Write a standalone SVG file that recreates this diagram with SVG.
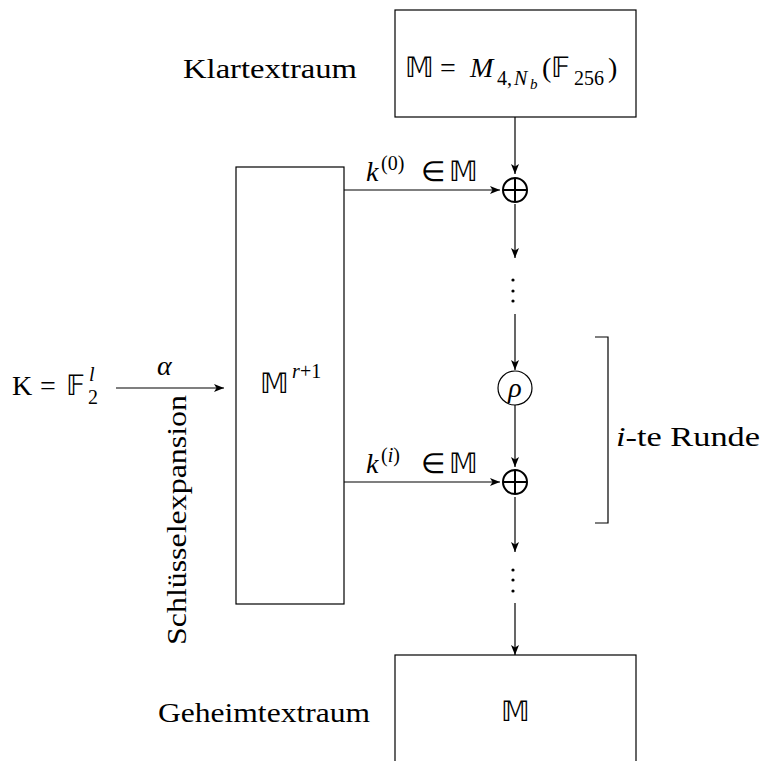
<svg xmlns="http://www.w3.org/2000/svg" width="761" height="761" viewBox="0 0 761 761">
<style>
text{font-family:"Liberation Serif","Times New Roman",serif;fill:#000}
.t{font-size:28px}
.s{font-size:20px}
.ss{font-size:15px}
.i{font-style:italic}
.box{fill:#fff;stroke:#000;stroke-width:1.2}
.ln{fill:none;stroke:#000;stroke-width:1.2}
.ox{fill:none;stroke:#000;stroke-width:2}
</style>
<defs>
<marker id="ah" viewBox="0 0 10 8" refX="10" refY="4" markerWidth="10" markerHeight="8" markerUnits="userSpaceOnUse" orient="auto">
<path d="M0,0 L10,4 L0,8 L2.5,4 Z" fill="#000"/>
</marker>
</defs>
<g id="connectors">
<line class="ln" x1="515" y1="117" x2="515" y2="174" marker-end="url(#ah)"/>
<line class="ln" x1="515" y1="204" x2="515" y2="258" marker-end="url(#ah)"/>
<line class="ln" x1="515" y1="314" x2="515" y2="370" marker-end="url(#ah)"/>
<line class="ln" x1="515" y1="405" x2="515" y2="467" marker-end="url(#ah)"/>
<line class="ln" x1="515" y1="497" x2="515" y2="552" marker-end="url(#ah)"/>
<line class="ln" x1="515" y1="603" x2="515" y2="655" marker-end="url(#ah)"/>
<line class="ln" x1="344" y1="190" x2="500" y2="190" marker-end="url(#ah)"/>
<line class="ln" x1="344" y1="482" x2="500" y2="482" marker-end="url(#ah)"/>
<line class="ln" x1="116" y1="388" x2="224" y2="388" marker-end="url(#ah)"/>
<polyline class="ln" points="595,337 608,337 608,523 595,523"/>
</g>
<g id="dots1" fill="#000">
<circle cx="513" cy="280" r="1.6"/><circle cx="513" cy="291" r="1.6"/><circle cx="513" cy="301" r="1.6"/>
</g>
<g id="dots2" fill="#000">
<circle cx="513" cy="570" r="1.6"/><circle cx="513" cy="580" r="1.6"/><circle cx="513" cy="591" r="1.6"/>
</g>
<g id="klartext">
<rect class="box" x="395" y="10" width="241" height="107"/>
<text class="t" x="405" y="77">𝕄</text>
<text class="t" x="440" y="77">=</text>
<text class="t i" x="470" y="77">M</text>
<text class="s" x="497" y="85">4,</text>
<text class="s i" x="514" y="85">N</text>
<text class="ss i" x="530" y="89">b</text>
<text class="t" x="542" y="77">(𝔽</text>
<text class="s" x="574" y="85">256</text>
<text class="t" x="608" y="77">)</text>
<text class="t" x="183" y="78" textLength="174" lengthAdjust="spacingAndGlyphs">Klartextraum</text>
</g>
<g id="xor0">
<circle class="ox" cx="515" cy="190" r="12"/>
<path class="ox" d="M503,190 H527 M515,178 V202"/>
</g>
<g id="rho">
<circle class="ln" cx="515" cy="388" r="17"/>
<text class="t i" x="515" y="397" text-anchor="middle">ρ</text>
</g>
<g id="xori">
<circle class="ox" cx="515" cy="482" r="12"/>
<path class="ox" d="M503,482 H527 M515,470 V494"/>
</g>
<g id="keyexp">
<rect class="box" x="236" y="167" width="108" height="437"/>
<text class="t" x="260" y="393">𝕄</text>
<text class="s i" x="292" y="378">r</text>
<text class="s" x="300" y="378">+1</text>
</g>
<g id="key">
<text class="t" x="12" y="395">K</text>
<text class="t" x="40" y="395">=</text>
<text class="t" x="66" y="395">𝔽</text>
<text class="s" x="88" y="404">2</text>
<text class="s i" x="89" y="381">l</text>
<text class="t i" x="157" y="375">α</text>
<text class="t" transform="translate(186,645) rotate(-90)" textLength="250" lengthAdjust="spacingAndGlyphs">Schlüsselexpansion</text>
</g>
<g id="k0label">
<text class="t i" x="366" y="181">k</text>
<text class="s" x="381" y="170">(0)</text>
<text class="t" x="421" y="181">∈</text>
<text class="t" x="449" y="181">𝕄</text>
</g>
<g id="kilabel">
<text class="t i" x="366" y="473">k</text>
<text class="s" x="381" y="462">(<tspan class="i">i</tspan>)</text>
<text class="t" x="421" y="473">∈</text>
<text class="t" x="449" y="473">𝕄</text>
</g>
<g id="runde">
<text class="t" x="616" y="446" textLength="144" lengthAdjust="spacingAndGlyphs"><tspan class="i">i</tspan>-te Runde</text>
</g>
<g id="geheimtext">
<rect class="box" x="395" y="655" width="241" height="120"/>
<text class="t" x="515" y="721" text-anchor="middle">𝕄</text>
<text class="t" x="158" y="722" textLength="212" lengthAdjust="spacingAndGlyphs">Geheimtextraum</text>
</g>
</svg>
